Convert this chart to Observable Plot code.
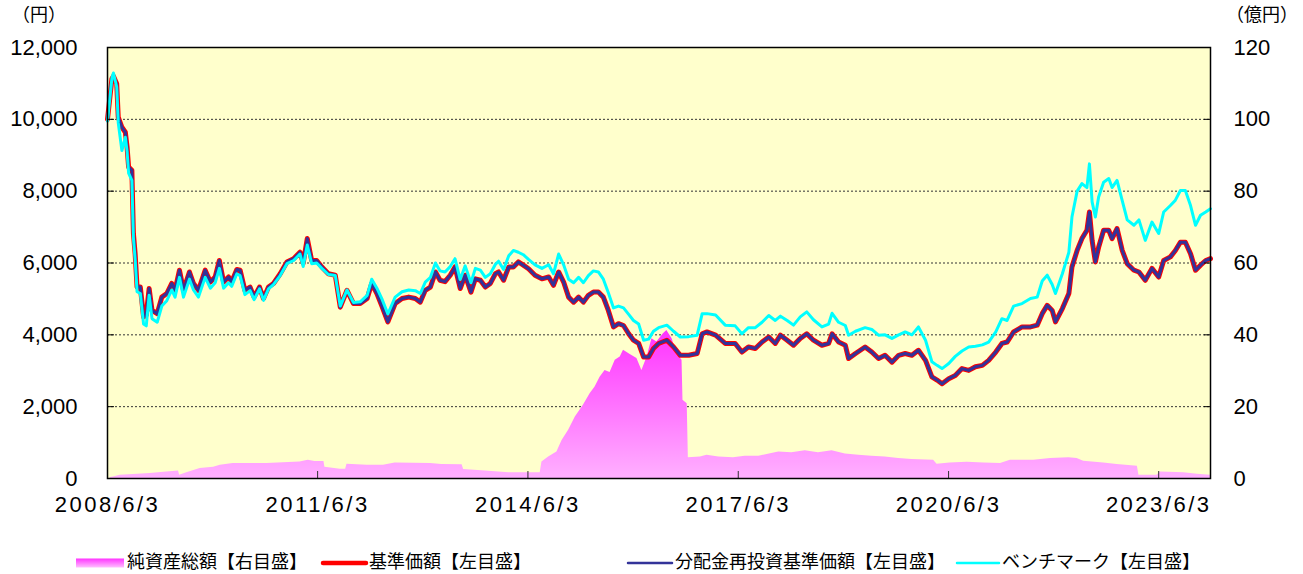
<!DOCTYPE html>
<html><head><meta charset="utf-8">
<script src="https://cdn.jsdelivr.net/npm/d3@7"></script>
<script src="https://cdn.jsdelivr.net/npm/@observablehq/plot@0.6"></script>
<style>body{margin:0;background:#fff;}</style>
</head><body><div id="chart"></div>
<script>
// ---- data ----
const lineDates = ["2008-06-03","2008-06-26","2008-07-04","2008-07-21","2008-07-29","2008-08-17","2008-09-04","2008-09-13","2008-09-21","2008-10-08","2008-10-16","2008-10-25","2008-11-04","2008-11-21","2008-12-08","2008-12-22","2009-01-06","2009-01-21","2009-02-17","2009-03-13","2009-04-08","2009-05-04","2009-05-21","2009-06-13","2009-07-04","2009-08-04","2009-08-25","2009-09-20","2009-10-25","2009-11-21","2009-12-16","2010-01-07","2010-01-29","2010-02-24","2010-03-12","2010-04-08","2010-04-25","2010-05-20","2010-06-16","2010-07-07","2010-08-04","2010-08-25","2010-09-20","2010-10-16","2010-11-20","2010-12-25","2011-01-29","2011-03-03","2011-03-20","2011-04-10","2011-05-03","2011-05-29","2011-06-25","2011-07-29","2011-09-03","2011-09-29","2011-11-03","2011-12-07","2012-01-11","2012-02-16","2012-03-11","2012-04-07","2012-05-03","2012-06-03","2012-07-11","2012-08-16","2012-09-20","2012-10-24","2012-11-19","2012-12-15","2013-01-11","2013-02-06","2013-03-02","2013-03-28","2013-04-24","2013-05-19","2013-06-15","2013-07-11","2013-08-10","2013-09-02","2013-09-28","2013-10-24","2013-11-19","2013-12-15","2014-01-01","2014-01-27","2014-02-23","2014-03-19","2014-04-14","2014-05-10","2014-06-06","2014-07-10","2014-08-15","2014-09-19","2014-10-14","2014-11-10","2014-12-06","2015-01-01","2015-01-27","2015-02-22","2015-03-19","2015-04-14","2015-05-10","2015-06-05","2015-07-01","2015-07-27","2015-08-23","2015-09-18","2015-10-14","2015-11-10","2015-12-05","2016-01-01","2016-01-27","2016-02-22","2016-03-18","2016-04-14","2016-05-27","2016-07-01","2016-08-05","2016-09-18","2016-11-01","2016-11-27","2016-12-22","2017-02-05","2017-03-27","2017-05-18","2017-06-22","2017-07-26","2017-08-31","2017-10-05","2017-11-09","2017-12-13","2018-01-09","2018-02-13","2018-03-18","2018-04-22","2018-05-26","2018-06-30","2018-08-13","2018-09-17","2018-10-05","2018-11-08","2018-12-13","2018-12-30","2019-02-04","2019-03-26","2019-04-30","2019-06-04","2019-07-08","2019-08-13","2019-09-17","2019-10-21","2019-11-25","2019-12-29","2020-02-04","2020-03-08","2020-04-04","2020-04-30","2020-06-04","2020-07-08","2020-08-12","2020-09-16","2020-10-21","2020-11-26","2020-12-29","2021-02-04","2021-03-08","2021-04-04","2021-05-08","2021-06-21","2021-08-04","2021-09-08","2021-10-04","2021-10-30","2021-11-25","2021-12-12","2022-01-17","2022-02-20","2022-03-08","2022-04-04","2022-04-29","2022-05-25","2022-06-07","2022-06-21","2022-07-08","2022-07-25","2022-08-20","2022-09-16","2022-10-03","2022-10-29","2022-11-25","2022-12-21","2023-01-25","2023-02-20","2023-03-25","2023-04-29","2023-06-03","2023-06-29","2023-08-03","2023-08-29","2023-09-24","2023-10-20","2023-11-16","2023-12-12","2024-01-07","2024-02-03","2024-02-28"];

// 基準価額 (円)
const navValues = [10000,11130,11200,10990,10060,9780,9640,9230,8670,8580,6820,6260,5330,5330,4500,4550,5290,4680,4590,5050,5150,5430,5240,5800,5240,5750,5430,5240,5800,5470,5610,6070,5470,5610,5470,5820,5800,5240,5330,5050,5330,5010,5330,5430,5700,6030,6120,6300,6000,6680,6070,6070,5890,5700,5660,4770,5240,4870,4870,5010,5430,5150,4800,4360,4870,5010,5050,5010,4910,5240,5330,5750,5520,5480,5660,5890,5290,5660,5190,5560,5520,5330,5430,5700,5750,5520,5890,5890,6030,5940,5840,5660,5560,5610,5380,5750,5470,5050,4910,5050,4910,5100,5190,5190,5050,4680,4220,4310,4260,4030,3850,3760,3380,3380,3620,3760,3850,3660,3430,3430,3480,4030,4080,3990,3760,3760,3520,3660,3620,3800,3940,3760,3990,3850,3710,3900,4030,3850,3710,3760,4030,3800,3710,3340,3480,3660,3520,3340,3430,3240,3430,3480,3430,3570,3290,2830,2740,2640,2780,2870,3060,3010,3110,3150,3290,3520,3760,3800,4080,4220,4220,4270,4590,4820,4680,4360,4730,5150,5890,6350,6680,6910,7420,6630,6030,6440,6910,6910,6680,6960,6350,5980,5800,5750,5520,5850,5610,6070,6170,6350,6580,6580,6260,5800,5940,6070,6120];

// 分配金再投資基準価額 (円) — no distributions, identical to 基準価額
const reinvestValues = [10000,11130,11200,10990,10060,9780,9640,9230,8670,8580,6820,6260,5330,5330,4500,4550,5290,4680,4590,5050,5150,5430,5240,5800,5240,5750,5430,5240,5800,5470,5610,6070,5470,5610,5470,5820,5800,5240,5330,5050,5330,5010,5330,5430,5700,6030,6120,6300,6000,6680,6070,6070,5890,5700,5660,4770,5240,4870,4870,5010,5430,5150,4800,4360,4870,5010,5050,5010,4910,5240,5330,5750,5520,5480,5660,5890,5290,5660,5190,5560,5520,5330,5430,5700,5750,5520,5890,5890,6030,5940,5840,5660,5560,5610,5380,5750,5470,5050,4910,5050,4910,5100,5190,5190,5050,4680,4220,4310,4260,4030,3850,3760,3380,3380,3620,3760,3850,3660,3430,3430,3480,4030,4080,3990,3760,3760,3520,3660,3620,3800,3940,3760,3990,3850,3710,3900,4030,3850,3710,3760,4030,3800,3710,3340,3480,3660,3520,3340,3430,3240,3430,3480,3430,3570,3290,2830,2740,2640,2780,2870,3060,3010,3110,3150,3290,3520,3760,3800,4080,4220,4220,4270,4590,4820,4680,4360,4730,5150,5890,6350,6680,6910,7420,6630,6030,6440,6910,6910,6680,6960,6350,5980,5800,5750,5520,5850,5610,6070,6170,6350,6580,6580,6260,5800,5940,6070,6120];

// ベンチマーク (円)
const benchValues = [9950,11150,11290,10900,9900,9130,9500,9100,8500,8300,6700,6100,5200,5150,4300,4250,5100,4450,4350,4800,4950,5250,5050,5600,5050,5550,5250,5050,5600,5300,5450,5850,5300,5450,5350,5700,5650,5120,5230,4980,5280,4960,5280,5400,5650,5980,6070,6250,5900,6500,5980,6000,5850,5680,5650,4800,5250,4900,4920,5100,5550,5300,5000,4580,5050,5200,5250,5230,5150,5470,5600,6000,5780,5750,5900,6120,5540,5920,5450,5850,5800,5600,5700,5960,6050,5820,6200,6350,6300,6230,6100,5950,5850,5950,5700,6250,5950,5550,5450,5600,5450,5650,5780,5750,5550,5170,4750,4800,4750,4570,4400,4300,3850,3880,4100,4200,4270,4100,3940,3950,3990,4590,4590,4550,4270,4250,4030,4200,4200,4350,4540,4400,4520,4400,4270,4500,4640,4420,4220,4300,4600,4350,4260,3990,4100,4200,4150,3990,4000,3900,4000,4080,4000,4220,3850,3250,3150,3060,3200,3400,3550,3660,3680,3720,3800,4080,4450,4400,4800,4870,5010,5050,5500,5660,5400,5150,5700,6300,7280,8000,8210,8100,8760,7700,7280,7840,8250,8350,8100,8300,7740,7200,7050,7200,6630,7140,6820,7420,7600,7750,8020,8020,7600,7050,7330,7420,7510];

// 純資産総額 (億円)
const assetDates = ["2008-06-17","2008-07-04","2008-08-08","2008-10-16","2009-01-12","2009-04-08","2009-06-08","2009-06-14","2009-07-21","2009-09-29","2009-12-08","2010-01-12","2010-03-20","2010-09-12","2010-12-07","2011-03-03","2011-04-15","2011-05-20","2011-07-06","2011-07-11","2011-09-29","2011-10-27","2011-11-03","2012-02-16","2012-05-11","2012-07-11","2013-01-11","2013-03-11","2013-06-25","2013-07-03","2013-10-24","2014-02-23","2014-08-06","2014-08-15","2014-09-19","2014-11-01","2014-11-28","2015-01-01","2015-02-05","2015-03-19","2015-04-23","2015-05-19","2015-06-14","2015-07-10","2015-08-05","2015-09-01","2015-09-27","2015-10-14","2015-11-18","2015-12-23","2016-01-18","2016-02-14","2016-03-10","2016-04-05","2016-05-09","2016-05-27","2016-06-23","2016-07-19","2016-08-14","2016-08-19","2016-09-10","2016-09-16","2016-11-18","2016-12-22","2017-02-22","2017-05-09","2017-07-09","2017-09-18","2017-12-31","2018-03-09","2018-05-18","2018-07-26","2018-10-05","2018-12-13","2019-02-21","2019-04-30","2019-07-08","2019-09-17","2019-11-25","2020-03-17","2020-04-04","2020-06-11","2020-09-08","2020-12-04","2021-03-01","2021-04-21","2021-08-21","2021-11-16","2022-02-20","2022-04-04","2022-05-08","2022-08-20","2022-10-29","2023-02-12","2023-02-20","2023-05-25","2023-06-12","2023-10-12","2023-12-21","2024-02-28"];
const assetValues = [0.3,0.4,0.9,1.1,1.4,1.8,2.1,0.9,1.6,2.8,3.1,3.7,4.2,4.2,4.4,4.6,5.1,4.7,4.7,3.1,2.6,2.6,4.0,3.7,3.7,4.3,4.2,3.9,3.8,2.5,2.1,1.6,1.6,4.6,6.0,7.4,10.6,13.4,17.1,20.4,23.6,25.5,28.2,30.1,29.5,32.9,33.8,35.7,34.5,33.4,30.1,33.8,38.9,38.0,40.3,41.2,38.9,34.7,32.9,21.8,20.8,5.8,6.0,6.5,6.0,5.8,6.2,6.2,7.4,7.2,7.7,7.2,7.7,6.8,6.5,6.2,6.0,5.6,5.3,5.1,4.0,4.3,4.5,4.3,4.2,5.1,5.1,5.6,5.8,5.6,4.8,4.3,3.9,3.4,0.9,0.9,1.8,1.6,1.2,0.9];

const leftTicks = [0, 2000, 4000, 6000, 8000, 10000, 12000];
const rightTickLabels = ["0", "20", "40", "60", "80", "100", "120"];
const xTickDates = ["2008-06-03", "2011-06-03", "2014-06-03", "2017-06-03", "2020-06-03", "2023-06-03"];
const xDomain = ["2008-06-03", "2024-02-28"];
const leftUnit = "（円）";
const rightUnit = "（億円）";
const legendLabels = ["純資産総額【右目盛】", "基準価額【左目盛】", "分配金再投資基準価額【左目盛】", "ベンチマーク【左目盛】"];
const colors = {asset: "#FF33FF", nav: "#FF0000", reinvest: "#333399", bench: "#00FFFF"};

// ---- build tables ----
const parse = d3.utcParse("%Y-%m-%d");
const lineData = lineDates.map((d, i) => ({date: parse(d), nav: navValues[i], reinvest: reinvestValues[i], bench: benchValues[i]}));
const assetData = assetDates.map((d, i) => ({date: parse(d), v: assetValues[i]}));
const xTicks = xTickDates.map(parse);
const fmtDate = d => `${d.getUTCFullYear()}/${d.getUTCMonth() + 1}/${d.getUTCDate()}`;
const numFont = "'Liberation Sans', Arial, 'Noto Sans CJK JP', sans-serif";
const jpFont = "'Noto Sans CJK JP', sans-serif";

const defs = () => {
  const g = d3.create("svg:defs");
  const a = g.append("linearGradient").attr("id", "naGrad").attr("x1", 0).attr("y1", 0).attr("x2", 0).attr("y2", 1);
  a.append("stop").attr("offset", "0%").attr("stop-color", "#FF33FF");
  a.append("stop").attr("offset", "100%").attr("stop-color", "#FFB0FF");
  const b = g.append("linearGradient").attr("id", "legGrad").attr("x1", 0).attr("y1", 0).attr("x2", 0).attr("y2", 1);
  b.append("stop").attr("offset", "0%").attr("stop-color", "#FF33FF");
  b.append("stop").attr("offset", "100%").attr("stop-color", "#FFC0FF");
  return g.node();
};

const svg = Plot.plot({
  width: 1303,
  height: 574,
  marginLeft: 107,
  marginRight: 93,
  marginTop: 47,
  marginBottom: 96,
  style: {fontFamily: numFont, fontSize: "22px", color: "#000", background: "#fff"},
  x: {type: "utc", domain: xDomain.map(parse)},
  y: {domain: [0, 12000]},
  marks: [
    defs,
    Plot.frame({fill: "#FFFFCC", stroke: null}),
    Plot.ruleY(leftTicks.slice(1, -1), {stroke: "#333", strokeWidth: 1, strokeDasharray: "2,2"}),
    Plot.areaY(assetData, {x: "date", y: d => d.v * 100, fill: "url(#naGrad)"}),
    Plot.lineY(lineData, {x: "date", y: "nav", stroke: colors.nav, strokeWidth: 5}),
    Plot.lineY(lineData, {x: "date", y: "reinvest", stroke: colors.reinvest, strokeWidth: 3}),
    Plot.lineY(lineData, {x: "date", y: "bench", stroke: colors.bench, strokeWidth: 3}),
    Plot.axisY(leftTicks, {anchor: "left", tickSize: 0, tickPadding: 30, fontSize: 22, tickFormat: d3.format(","), fill: "#000"}),
    Plot.axisY(leftTicks, {anchor: "right", tickSize: 0, tickPadding: 23, fontSize: 22, tickFormat: d => rightTickLabels[leftTicks.indexOf(d)], fill: "#000"}),
    Plot.axisY(leftTicks, {anchor: "left", tickSize: 7, dx: 7, tickFormat: () => "", stroke: "#000"}),
    Plot.axisY(leftTicks, {anchor: "right", tickSize: 7, dx: -7, tickFormat: () => "", stroke: "#000"}),
    Plot.axisX(xTicks, {anchor: "bottom", tickSize: 0, tickPadding: 18, fontSize: 22, tickFormat: fmtDate, fill: "#000"}),
    Plot.axisX(xTicks, {anchor: "bottom", tickSize: 7, dy: -7, tickFormat: () => "", stroke: "#333"}),
    Plot.frame({stroke: "#000", strokeWidth: 1.5})
  ]
});

const s = d3.select(svg);
s.selectAll("[aria-label='x-axis tick label'] text").style("letter-spacing", "2.5px");
s.append("text").attr("x", 39).attr("y", 21).attr("text-anchor", "middle")
  .style("font-family", jpFont).style("font-size", "18px").text(leftUnit);
s.append("text").attr("x", 1262).attr("y", 21).attr("text-anchor", "middle")
  .style("font-family", jpFont).style("font-size", "18px").text(rightUnit);

// legend
const lg = s.append("g").style("font-family", jpFont).style("font-size", "18px").attr("text-anchor", "start");
const items = [
  {x0: 76, x1: 124, tx: 127, kind: "rect"},
  {x0: 323, x1: 366, tx: 369, kind: "line", color: colors.nav, w: 4.5},
  {x0: 628, x1: 672, tx: 675, kind: "line", color: colors.reinvest, w: 2.5},
  {x0: 957, x1: 999, tx: 1002, kind: "line", color: colors.bench, w: 2.5}
];
items.forEach((it, i) => {
  const yc = 563;
  if (it.kind === "rect") {
    lg.append("rect").attr("x", it.x0).attr("y", yc - 4.5).attr("width", it.x1 - it.x0).attr("height", 9).attr("fill", "url(#legGrad)");
  } else {
    lg.append("line").attr("x1", it.x0).attr("x2", it.x1).attr("y1", yc).attr("y2", yc)
      .attr("stroke", it.color).attr("stroke-width", it.w).attr("stroke-linecap", "round");
  }
  lg.append("text").attr("x", it.tx).attr("y", yc).attr("dominant-baseline", "middle").attr("text-anchor", "start").text(legendLabels[i]);
});

document.getElementById("chart").appendChild(svg);
</script>
</body></html>
